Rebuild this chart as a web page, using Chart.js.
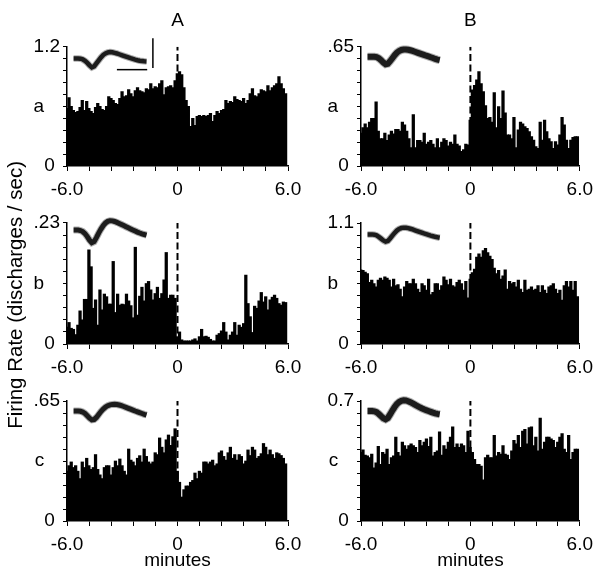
<!DOCTYPE html>
<html>
<head>
<meta charset="utf-8">
<title>Firing rate histograms</title>
<script src="https://cdn.jsdelivr.net/npm/chart.js@4.4.1/dist/chart.umd.min.js"></script>
<style>
  html, body { margin: 0; padding: 0; background: #fff; }
  #figure { position: relative; width: 600px; height: 577px; }
  #figure canvas { position: absolute; left: 0; top: 0; }
</style>
</head>
<body>
<div id="figure">
  <canvas id="panel-Aa" width="600" height="577"></canvas>
  <canvas id="panel-Ba" width="600" height="577"></canvas>
  <canvas id="panel-Ab" width="600" height="577"></canvas>
  <canvas id="panel-Bb" width="600" height="577"></canvas>
  <canvas id="panel-Ac" width="600" height="577"></canvas>
  <canvas id="panel-Bc" width="600" height="577"></canvas>
</div>
<script>
// --- data: 100 bins of 0.12 min from -6.0 to 6.0 min (discharges / sec) ---
const rateAa = [
  0.58, 0.69, 0.60, 0.56, 0.54, 0.55, 0.59, 0.66, 0.56, 0.65,
  0.58, 0.55, 0.53, 0.59, 0.63, 0.60, 0.57, 0.56, 0.60, 0.70,
  0.68, 0.66, 0.63, 0.62, 0.68, 0.75, 0.70, 0.71, 0.77, 0.73,
  0.70, 0.76, 0.79, 0.76, 0.75, 0.74, 0.78, 0.77, 0.83, 0.78,
  0.80, 0.79, 0.83, 0.86, 0.72, 0.79, 0.80, 0.81, 0.79, 0.86,
  0.93, 0.95, 0.92, 0.79, 0.66, 0.60, 0.40, 0.48, 0.41, 0.50,
  0.51, 0.50, 0.51, 0.50, 0.51, 0.53, 0.45, 0.51, 0.55, 0.53,
  0.56, 0.57, 0.66, 0.63, 0.65, 0.64, 0.70, 0.67, 0.66, 0.65,
  0.68, 0.63, 0.66, 0.73, 0.78, 0.71, 0.70, 0.73, 0.77, 0.76,
  0.75, 0.81, 0.76, 0.79, 0.81, 0.83, 0.90, 0.83, 0.78, 0.73
];
const rateBa = [
  0.18, 0.21, 0.23, 0.21, 0.24, 0.26, 0.26, 0.35, 0.19, 0.15,
  0.15, 0.18, 0.14, 0.17, 0.19, 0.175, 0.20, 0.20, 0.19, 0.24,
  0.225, 0.19, 0.15, 0.10, 0.28, 0.10, 0.14, 0.14, 0.13, 0.18,
  0.12, 0.13, 0.14, 0.12, 0.10, 0.15, 0.10, 0.13, 0.15, 0.14,
  0.11, 0.13, 0.12, 0.17, 0.12, 0.11, 0.08, 0.09, 0.12, 0.115,
  0.25, 0.415, 0.44, 0.47, 0.515, 0.45, 0.406, 0.33, 0.26, 0.266,
  0.24, 0.40, 0.21, 0.324, 0.26, 0.41, 0.29, 0.17, 0.17, 0.15,
  0.266, 0.10, 0.197, 0.24, 0.23, 0.215, 0.206, 0.188, 0.16, 0.142,
  0.106, 0.096, 0.24, 0.142, 0.25, 0.188, 0.15, 0.133, 0.096, 0.133,
  0.115, 0.17, 0.266, 0.224, 0.142, 0.096, 0.142, 0.157, 0.16, 0.16
];
const rateAb = [
  0.032, 0.041, 0.030, 0.028, 0.018, 0.036, 0.063, 0.046, 0.085, 0.085,
  0.179, 0.147, 0.068, 0.084, 0.036, 0.103, 0.065, 0.095, 0.090, 0.076,
  0.076, 0.157, 0.060, 0.095, 0.074, 0.076, 0.075, 0.095, 0.082, 0.073,
  0.050, 0.184, 0.055, 0.091, 0.108, 0.082, 0.115, 0.119, 0.103, 0.084,
  0.096, 0.108, 0.087, 0.096, 0.122, 0.174, 0.087, 0.093, 0.093, 0.087,
  0.014, 0.023, 0.008, 0.006, 0.006, 0.006, 0.006, 0.008, 0.010, 0.006,
  0.014, 0.028, 0.014, 0.015, 0.013, 0.009, 0.006, 0.006, 0.017, 0.020,
  0.025, 0.041, 0.023, 0.008, 0.017, 0.023, 0.041, 0.017, 0.036, 0.032,
  0.039, 0.131, 0.077, 0.052, 0.022, 0.072, 0.068, 0.082, 0.098, 0.080,
  0.090, 0.065, 0.084, 0.089, 0.093, 0.087, 0.077, 0.074, 0.080, 0.079
];
const rateBb = [
  0.675, 0.67, 0.654, 0.64, 0.56, 0.58, 0.55, 0.52, 0.58, 0.60,
  0.58, 0.61, 0.60, 0.58, 0.52, 0.59, 0.53, 0.54, 0.50, 0.43,
  0.52, 0.57, 0.55, 0.55, 0.59, 0.55, 0.50, 0.47, 0.55, 0.53,
  0.49, 0.59, 0.45, 0.47, 0.55, 0.55, 0.49, 0.53, 0.61, 0.58,
  0.54, 0.59, 0.53, 0.52, 0.56, 0.58, 0.55, 0.49, 0.57, 0.42,
  0.59, 0.65, 0.68, 0.79, 0.82, 0.79, 0.85, 0.87, 0.83, 0.80,
  0.77, 0.69, 0.64, 0.67, 0.59, 0.62, 0.675, 0.50, 0.57, 0.55,
  0.56, 0.52, 0.58, 0.50, 0.47, 0.58, 0.49, 0.50, 0.52, 0.49,
  0.50, 0.53, 0.47, 0.53, 0.49, 0.46, 0.52, 0.53, 0.55, 0.50,
  0.46, 0.49, 0.40, 0.53, 0.57, 0.52, 0.57, 0.49, 0.57, 0.43
];
const rateAc = [
  0.27, 0.30, 0.32, 0.29, 0.30, 0.27, 0.23, 0.32, 0.29, 0.34,
  0.30, 0.28, 0.29, 0.36, 0.28, 0.25, 0.23, 0.29, 0.30, 0.30,
  0.25, 0.29, 0.325, 0.30, 0.336, 0.30, 0.27, 0.25, 0.39, 0.33,
  0.32, 0.30, 0.34, 0.354, 0.32, 0.39, 0.35, 0.32, 0.31, 0.32,
  0.37, 0.36, 0.45, 0.40, 0.37, 0.44, 0.466, 0.41, 0.457, 0.50,
  0.27, 0.21, 0.13, 0.17, 0.19, 0.19, 0.21, 0.22, 0.26, 0.23,
  0.27, 0.26, 0.32, 0.32, 0.31, 0.32, 0.33, 0.30, 0.31, 0.37,
  0.38, 0.35, 0.33, 0.37, 0.40, 0.34, 0.36, 0.33, 0.36, 0.35,
  0.31, 0.325, 0.385, 0.355, 0.40, 0.385, 0.34, 0.35, 0.365, 0.42,
  0.40, 0.36, 0.385, 0.36, 0.34, 0.37, 0.365, 0.355, 0.34, 0.31
];
const rateBc = [
  0.40, 0.415, 0.385, 0.38, 0.37, 0.39, 0.31, 0.34, 0.435, 0.33,
  0.40, 0.39, 0.42, 0.33, 0.37, 0.38, 0.49, 0.40, 0.38, 0.46,
  0.44, 0.42, 0.44, 0.45, 0.44, 0.43, 0.40, 0.47, 0.44, 0.46,
  0.48, 0.435, 0.49, 0.38, 0.40, 0.41, 0.52, 0.385, 0.44, 0.42,
  0.46, 0.49, 0.55, 0.43, 0.45, 0.43, 0.45, 0.44, 0.40, 0.525,
  0.43, 0.40, 0.36, 0.33, 0.33, 0.32, 0.24, 0.37, 0.385, 0.37,
  0.37, 0.50, 0.38, 0.40, 0.39, 0.44, 0.39, 0.385, 0.36, 0.41,
  0.47, 0.45, 0.50, 0.43, 0.525, 0.535, 0.45, 0.545, 0.55, 0.44,
  0.49, 0.41, 0.60, 0.42, 0.46, 0.49, 0.49, 0.48, 0.47, 0.43,
  0.46, 0.49, 0.51, 0.42, 0.40, 0.50, 0.36, 0.40, 0.42, 0.42
];

// spike waveforms (33 samples, arbitrary amplitude units)
const waveAa = [-1.7, -1.7, -1.7, -2, -2.7, -4.2, -6.2, -8.7, -10.7, -9.7, -6.7, -3.7, -0.7, 1.8, 3.3, 4.3, 4.7,
  4.5, 3.9, 3.3, 2.5, 1.7, 0.9, 0.1, -0.7, -1.5, -2.2, -2.9, -3.5, -4, -4.4, -4.6, -4.7];
const waveBa = [0, 0, 0, 0, -0.3, -1.5, -3.5, -5.8, -7.5, -7, -4.5, -1.5, 1.5, 4, 5.8, 6.8, 7.2,
  7.3, 7, 6.5, 5.8, 5, 4.2, 3.4, 2.6, 1.8, 1, 0.3, -0.5, -1.3, -2.2, -2.9, -3.4];
const waveAb = [3, 3, 3, 2.5, 1.5, -0.5, -3.5, -7, -9.5, -8.5, -4.5, 0, 4, 7.5, 10, 11.6, 12.3,
  12.1, 11.5, 10.6, 9.6, 8.5, 7.4, 6.3, 5.2, 4.1, 3, 2, 1, 0.1, -0.7, -1.4, -2];
const waveBb = [-1.3, -1.3, -1.3, -1.6, -2.3, -3.8, -5.5, -7.3, -8.5, -7.8, -5.3, -2.5, 0.2, 2.5, 4.1, 5, 5.4,
  5.3, 4.9, 4.3, 3.6, 2.8, 2, 1.2, 0.4, -0.4, -1.1, -1.8, -2.5, -3.1, -3.7, -4.2, -4.6];
const waveAc = [0, 0, 0, -0.3, -1, -2.5, -4.8, -7.2, -8.8, -8.5, -6.5, -3.5, -0.5, 2, 4, 5.3, 6.2,
  6.6, 6.7, 6.5, 6, 5.3, 4.5, 3.6, 2.7, 1.8, 0.9, 0, -0.8, -1.7, -2.5, -3.3, -4];
const waveBc = [0, 0, 0, -0.3, -1.2, -3, -5.2, -7.3, -8.3, -7, -3.5, 0.5, 4, 7, 9, 10.2, 10.7,
  10.5, 9.8, 8.8, 7.6, 6.3, 5, 3.8, 2.7, 1.7, 0.8, 0, -0.8, -1.6, -2.3, -2.9, -3.3];

// calibration bars drawn next to the first waveform (samples, amplitude units)
const calibTime = [{ x: 19, y: -13 }, { x: 32.3, y: -13 }];
const calibAmp = [{ x: 34.8, y: -11.3 }, { x: 34.8, y: 18.7 }];

// axes
const xTickValues = [-6, -4.8, -3.6, -2.4, -1.2, 0, 1.2, 2.4, 3.6, 4.8, 6];
const xTickText = ['-6.0', '', '', '', '', '0', '', '', '', '', '6.0'];
const binWidth = 0.12;
const binCenters = rateAa.map((_, i) => -6 + binWidth * (i + 0.5));

// --- layout (pixels) ---
const columnBounds = [{ left: 67, right: 288 }, { left: 361, right: 583 }];
const rowBounds = [{ top: 47, bottom: 166 }, { top: 223, bottom: 344 }, { top: 401, bottom: 521 }];
const Y_AXIS_WIDTH = 63;
const FONT = "'Liberation Sans', Arial, sans-serif";

Chart.defaults.color = '#000';
Chart.defaults.font.family = FONT;

const panels = [
  { canvas: 'panel-Aa', column: 0, row: 0, rates: rateAa, wave: waveAa, waveWidth: 4.5, yMax: 1.2, yTop: '1.2', letter: 'a', title: 'A', calib: true },
  { canvas: 'panel-Ba', column: 1, row: 0, rates: rateBa, wave: waveBa, waveWidth: 6, yMax: 0.65, yTop: '.65', letter: 'a', title: 'B' },
  { canvas: 'panel-Ab', column: 0, row: 1, rates: rateAb, wave: waveAb, waveWidth: 5, yMax: 0.23, yTop: '.23', letter: 'b', yTitle: 'Firing Rate (discharges / sec)' },
  { canvas: 'panel-Bb', column: 1, row: 1, rates: rateBb, wave: waveBb, waveWidth: 4.5, yMax: 1.1, yTop: '1.1', letter: 'b' },
  { canvas: 'panel-Ac', column: 0, row: 2, rates: rateAc, wave: waveAc, waveWidth: 5, yMax: 0.65, yTop: '.65', letter: 'c', xTitle: 'minutes' },
  { canvas: 'panel-Bc', column: 1, row: 2, rates: rateBc, wave: waveBc, waveWidth: 6, yMax: 0.7, yTop: '0.7', letter: 'c', xTitle: 'minutes' }
];

// y labels: 0 at the bottom, panel letter halfway, full scale at the top
function yLabel(p, i) {
  if (i === 0) return '0 ';
  if (i === 5) return p.letter + '   ';
  if (i === 10) return p.yTop;
  return '';
}

function makePanel(p) {
  const { left, right } = columnBounds[p.column];
  const { top, bottom } = rowBounds[p.row];
  const xAxisHeight = p.xTitle ? 51 : 40;
  const titleTop = 9;

  const datasets = [
    {
      type: 'line',
      data: [{ x: 0, y: 0 }, { x: 0, y: p.yMax }],
      borderColor: '#000',
      borderWidth: 2,
      borderDash: [7, 3.5],
      pointRadius: 0,
      order: 4
    },
    {
      type: 'bar',
      data: p.rates.map((r, i) => ({ x: binCenters[i], y: r })),
      backgroundColor: '#000',
      borderWidth: 0,
      barThickness: 2.6,
      order: 3
    },
    {
      type: 'line',
      xAxisID: 'wx',
      yAxisID: 'wy',
      data: p.wave.map((v, i) => ({ x: i, y: v })),
      borderColor: 'rgba(110, 110, 110, 0.55)',
      borderWidth: p.waveWidth + 2,
      pointRadius: 0,
      clip: false,
      order: 2
    },
    {
      type: 'line',
      xAxisID: 'wx',
      yAxisID: 'wy',
      data: p.wave.map((v, i) => ({ x: i, y: v })),
      borderColor: '#1c1c1c',
      borderWidth: p.waveWidth,
      pointRadius: 0,
      clip: false,
      order: 1
    }
  ];

  if (p.calib) {
    [calibTime, calibAmp].forEach(bar => datasets.push({
      type: 'line',
      xAxisID: 'wx',
      yAxisID: 'wy',
      data: bar,
      borderColor: '#000',
      borderWidth: 1.5,
      pointRadius: 0,
      clip: false,
      order: 0
    }));
  }

  return new Chart(document.getElementById(p.canvas), {
    type: 'bar',
    data: { datasets },
    options: {
      responsive: false,
      animation: false,
      devicePixelRatio: 1,
      layout: {
        padding: {
          left: left - Y_AXIS_WIDTH,
          right: 600 - right,
          top: p.title ? titleTop : top,
          bottom: 577 - bottom - xAxisHeight
        }
      },
      plugins: {
        legend: { display: false },
        tooltip: { enabled: false },
        title: {
          display: !!p.title,
          text: p.title || '',
          fullSize: false,
          color: '#000',
          font: { size: 19, weight: 'normal' },
          padding: { top: 0, bottom: top - titleTop - 23 }
        }
      },
      scales: {
        x: {
          type: 'linear',
          min: -6,
          max: 6,
          offset: false,
          afterBuildTicks: s => { s.ticks = xTickValues.map(v => ({ value: v })); },
          afterFit: s => { s.height = xAxisHeight; },
          ticks: {
            autoSkip: false,
            maxRotation: 0,
            minRotation: 0,
            padding: 7,
            color: '#000',
            font: { size: 19 },
            callback: (v, i) => xTickText[i]
          },
          grid: { drawOnChartArea: false, offset: false, tickLength: 5, color: '#000', lineWidth: 1 },
          border: { display: true, color: '#000', width: 1.5 },
          title: {
            display: !!p.xTitle,
            text: p.xTitle || '',
            color: '#000',
            font: { size: 19 },
            padding: 0
          }
        },
        y: {
          type: 'linear',
          min: 0,
          max: p.yMax,
          afterBuildTicks: s => { s.ticks = xTickValues.map((_, i) => ({ value: p.yMax * i / 10 })); },
          afterFit: s => { s.width = Y_AXIS_WIDTH; },
          ticks: {
            autoSkip: false,
            padding: 3,
            color: '#000',
            font: { size: 19 },
            callback: (v, i) => yLabel(p, i)
          },
          grid: { drawOnChartArea: false, tickLength: 4, color: '#000', lineWidth: 1 },
          border: { display: true, color: '#000', width: 1.5 },
          title: {
            display: !!p.yTitle,
            text: (p.yTitle || '') + '    ',
            color: '#000',
            font: { size: 20.5 },
            padding: 0
          }
        },
        wx: { type: 'linear', axis: 'x', position: 'bottom', display: false, offset: false, grid: { offset: false }, min: -2.9, max: 94.1 },
        wy: { type: 'linear', axis: 'y', position: 'left', display: false, offset: false, min: -110, max: 10 }
      }
    }
  });
}

panels.forEach(makePanel);
</script>
</body>
</html>
